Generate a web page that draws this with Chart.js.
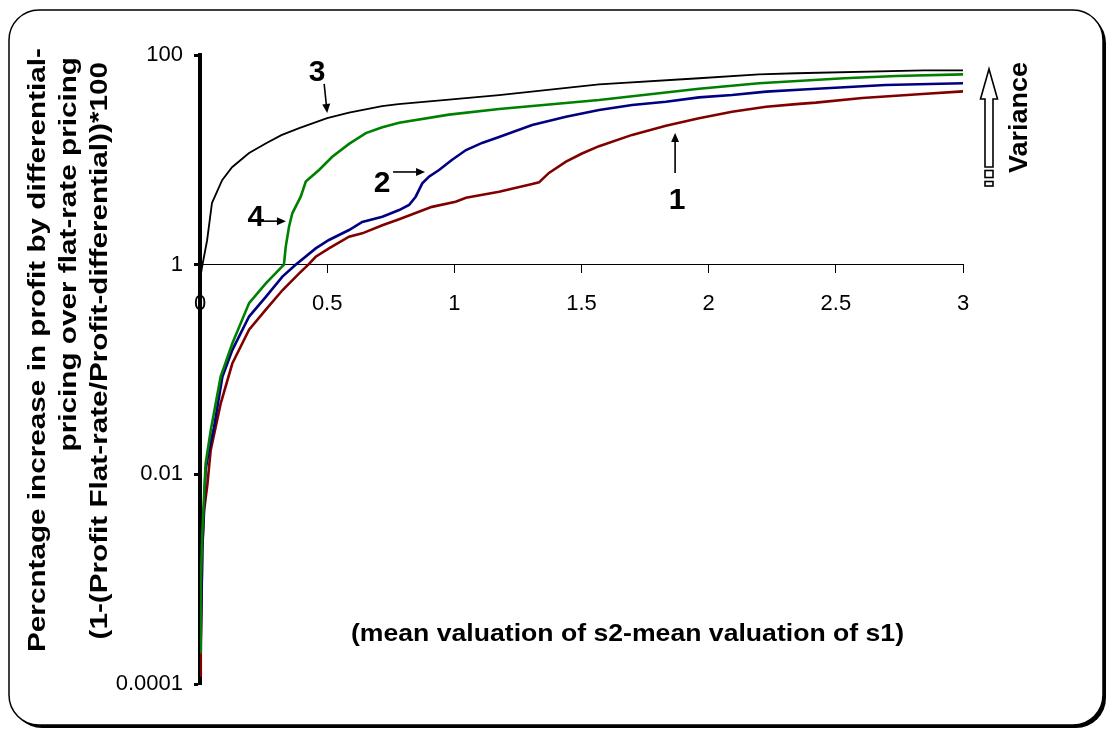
<!DOCTYPE html>
<html>
<head>
<meta charset="utf-8">
<script src="https://cdn.jsdelivr.net/npm/chart.js@4.4.1/dist/chart.umd.min.js"></script>
<style>
  html, body { margin: 0; padding: 0; background: #fff; }
  #wrap { width: 1108px; height: 730px; }
</style>
</head>
<body>
<div id="wrap"><canvas id="c" width="1108" height="730"></canvas></div>
<script>
/* Profit increase of differential vs flat-rate pricing, four variance curves on a log axis. */
const xTicks = [0, 0.5, 1, 1.5, 2, 2.5, 3];
const xTickLabels = ["0", "0.5", "1", "1.5", "2", "2.5", "3"];
const yTicks = [0.0001, 0.01, 1, 100];
const yTickLabels = ["0.0001", "0.01", "1", "100"];

// curve 1 (maroon)
const curve1X = [0.001, 0.003, 0.009, 0.016, 0.029, 0.042, 0.081, 0.127, 0.193, 0.258, 0.324, 0.389, 0.426, 0.455, 0.507, 0.586, 0.638, 0.717, 0.783, 0.912, 1.005, 1.046, 1.176, 1.306, 1.333, 1.372, 1.439, 1.502, 1.569, 1.699, 1.832, 1.962, 2.092, 2.226, 2.344, 2.421, 2.604, 2.84, 3.0];
const curve1Y = [0.00012, 0.0002, 0.0019, 0.0045, 0.008, 0.017, 0.047, 0.114, 0.24, 0.37, 0.57, 0.82, 1.0, 1.19, 1.43, 1.85, 1.99, 2.38, 2.71, 3.56, 3.98, 4.35, 4.97, 5.87, 6.1, 7.5, 9.6, 11.5, 13.5, 17.3, 21.1, 24.9, 28.7, 32.1, 34.0, 35.1, 38.9, 42.5, 45];
// curve 2 (navy)
const curve2X = [0.002, 0.009, 0.022, 0.035, 0.055, 0.088, 0.127, 0.193, 0.258, 0.324, 0.376, 0.455, 0.507, 0.586, 0.638, 0.717, 0.783, 0.822, 0.848, 0.874, 0.9, 0.94, 0.99, 1.046, 1.109, 1.176, 1.306, 1.439, 1.569, 1.699, 1.832, 1.962, 2.092, 2.226, 2.388, 2.696, 3.0];
const curve2Y = [0.0002, 0.002, 0.011, 0.017, 0.028, 0.085, 0.153, 0.32, 0.49, 0.77, 1.0, 1.43, 1.72, 2.14, 2.56, 2.87, 3.32, 3.71, 4.45, 5.97, 6.9, 8.0, 9.96, 12.4, 14.5, 16.5, 21.5, 25.8, 29.9, 33.3, 35.8, 39.4, 41.5, 44.7, 47.1, 51.8, 53.7];
// curve 3 (black)
const curve3X = [0.001, 0.008, 0.028, 0.047, 0.087, 0.126, 0.193, 0.26, 0.32, 0.39, 0.5, 0.586, 0.716, 0.78, 0.979, 1.176, 1.569, 1.962, 2.198, 2.344, 2.847, 3.0];
const curve3Y = [0.75, 0.95, 1.71, 3.87, 6.4, 8.5, 11.6, 14.4, 17.2, 20.1, 25, 28.2, 32.6, 34.0, 37.6, 41.5, 52.5, 60, 65.4, 67, 71.4, 71.4];
// curve 4 (green)
const curve4X = [0.001, 0.003, 0.009, 0.022, 0.042, 0.081, 0.127, 0.193, 0.258, 0.33, 0.337, 0.35, 0.363, 0.396, 0.416, 0.468, 0.52, 0.586, 0.652, 0.717, 0.783, 0.979, 1.176, 1.569, 1.962, 2.198, 2.532, 2.736, 3.0];
const curve4Y = [0.0002, 0.0009, 0.0027, 0.0126, 0.026, 0.085, 0.177, 0.43, 0.66, 1.0, 1.48, 2.3, 3.09, 4.45, 6.2, 8.0, 10.7, 14.2, 18.0, 20.5, 22.6, 27, 30.5, 37.2, 47.7, 53.7, 60, 63.1, 65.4];

const yTitleLines = [
  "Percntage increase in profit by differential-",
  "pricing over flat-rate pricing",
  "(1-(Profit Flat-rate/Profit-differential))*100"
];
const xTitle = "(mean valuation of s2-mean valuation of s1)";
const sideLabel = "Variance";

const FONT = "'Liberation Sans', Arial, Helvetica, sans-serif";
const zip = (xs, ys) => xs.map((x, i) => ({ x, y: ys[i] }));

function roundRect(ctx, x, y, w, h, r) {
  ctx.beginPath();
  ctx.moveTo(x + r, y);
  ctx.arcTo(x + w, y, x + w, y + h, r);
  ctx.arcTo(x + w, y + h, x, y + h, r);
  ctx.arcTo(x, y + h, x, y, r);
  ctx.arcTo(x, y, x + w, y, r);
  ctx.closePath();
}

function arrow(ctx, x1, y1, x2, y2) {
  const a = Math.atan2(y2 - y1, x2 - x1), hl = 9, hw = 4;
  ctx.beginPath(); ctx.moveTo(x1, y1);
  ctx.lineTo(x2 - hl * Math.cos(a), y2 - hl * Math.sin(a)); ctx.stroke();
  ctx.beginPath(); ctx.moveTo(x2, y2);
  ctx.lineTo(x2 - hl * Math.cos(a) + hw * Math.sin(a), y2 - hl * Math.sin(a) - hw * Math.cos(a));
  ctx.lineTo(x2 - hl * Math.cos(a) - hw * Math.sin(a), y2 - hl * Math.sin(a) + hw * Math.cos(a));
  ctx.closePath(); ctx.fill();
}

// stretched text along its own direction so the length matches the picture
function stretchedText(ctx, text, w) {
  const m = ctx.measureText(text).width;
  ctx.scale(w / m, 1);
  ctx.fillText(text, 0, 0);
}

const framePlugin = {
  id: "frame",
  beforeDraw(chart) {
    const ctx = chart.ctx;
    ctx.save();
    ctx.fillStyle = "#fff"; ctx.fillRect(0, 0, chart.width, chart.height);
    roundRect(ctx, 12, 13, 1094, 715, 30); ctx.fillStyle = "#000"; ctx.fill();
    roundRect(ctx, 9, 10, 1094, 715, 30); ctx.fillStyle = "#fff"; ctx.fill();
    ctx.lineWidth = 1.5; ctx.strokeStyle = "#000"; ctx.stroke();
    ctx.restore();
  }
};

const decorPlugin = {
  id: "decor",
  afterDraw(chart) {
    const ctx = chart.ctx, xs = chart.scales.x, ys = chart.scales.y;
    const px = (v) => xs.getPixelForValue(v), py = (v) => ys.getPixelForValue(v);
    ctx.save();
    ctx.fillStyle = "#000"; ctx.strokeStyle = "#000";

    // y title, three rotated lines
    ctx.font = "bold 23px " + FONT;
    const s = 604 / ctx.measureText(yTitleLines[0]).width;
    const lx = [45, 76, 107], ly = [48, 57, 62];
    yTitleLines.forEach((t, i) => {
      ctx.save();
      ctx.translate(lx[i], ly[i]); ctx.rotate(-Math.PI / 2); ctx.scale(s, 1);
      ctx.textAlign = "right"; ctx.textBaseline = "alphabetic";
      ctx.fillText(t, 0, 0);
      ctx.restore();
    });

    // x title inside the plot
    ctx.save();
    ctx.font = "bold 24px " + FONT;
    ctx.translate(351, 641); ctx.textAlign = "left"; ctx.textBaseline = "alphabetic";
    stretchedText(ctx, xTitle, 553);
    ctx.restore();

    // curve labels with arrows, anchored on the curves
    ctx.font = "bold 30px " + FONT; ctx.textAlign = "center"; ctx.textBaseline = "alphabetic";
    ctx.lineWidth = 1.6;
    const notes = [
      { t: "3", x: 0.5, y: 28, tail: [-3, -29], txt: [-10, -43] },
      { t: "4", x: 0.338, y: 2.6, tail: [-24, 0], txt: [-30, -6] },
      { t: "2", x: 0.885, y: 7.66, tail: [-32, 0], txt: [-43, 9] },
      { t: "1", x: 1.868, y: 18, tail: [0, 40], txt: [2, 65] }
    ];
    notes.forEach((n) => {
      const X = px(n.x), Y = py(n.y);
      arrow(ctx, X + n.tail[0], Y + n.tail[1], X, Y);
      ctx.fillText(n.t, X + n.txt[0], Y + n.txt[1] + 11);
    });

    // hollow "Variance" arrow at the right
    const r = chart.chartArea.right;
    const ax = r + 26;
    ctx.lineWidth = 1.6; ctx.fillStyle = "#fff";
    ctx.beginPath();
    ctx.moveTo(ax, 69);
    ctx.lineTo(ax + 8.5, 99); ctx.lineTo(ax + 4, 99); ctx.lineTo(ax + 4, 167);
    ctx.lineTo(ax - 4, 167); ctx.lineTo(ax - 4, 99); ctx.lineTo(ax - 8.5, 99);
    ctx.closePath(); ctx.fill(); ctx.stroke();
    ctx.strokeRect(ax - 4, 170.5, 8, 7);
    ctx.strokeRect(ax - 4, 181.5, 8, 4.5);
    ctx.fillStyle = "#000";
    ctx.save();
    ctx.font = "bold 26px " + FONT;
    ctx.translate(ax + 38, 173); ctx.rotate(-Math.PI / 2);
    ctx.textAlign = "left"; ctx.textBaseline = "alphabetic";
    stretchedText(ctx, sideLabel, 111);
    ctx.restore();

    ctx.restore();
  }
};

new Chart(document.getElementById("c"), {
  type: "line",
  data: {
    datasets: [
      { label: "3", data: zip(curve3X, curve3Y), borderColor: "#000000", borderWidth: 1.8 },
      { label: "4", data: zip(curve4X, curve4Y), borderColor: "#008000", borderWidth: 2.6 },
      { label: "2", data: zip(curve2X, curve2Y), borderColor: "#000080", borderWidth: 2.6 },
      { label: "1", data: zip(curve1X, curve1Y), borderColor: "#800000", borderWidth: 2.6 }
    ]
  },
  options: {
    responsive: false, animation: false, devicePixelRatio: 1,
    layout: { padding: { left: 0, top: 55, right: 145, bottom: 46 } },
    elements: { point: { radius: 0 }, line: { tension: 0, fill: false } },
    plugins: { legend: { display: false }, tooltip: { enabled: false } },
    scales: {
      x: {
        type: "linear", position: { y: 1 }, min: 0, max: 3,
        afterBuildTicks: (sc) => { sc.ticks = xTicks.map((v) => ({ value: v })); },
        ticks: { callback: (v, i) => xTickLabels[i], color: "#000", font: { family: FONT, size: 22 }, padding: 18, autoSkip: false, maxRotation: 0 },
        grid: { drawOnChartArea: false, drawTicks: true, tickLength: 8, tickColor: "#000", tickWidth: 1 },
        border: { display: true, color: "#000", width: 1 }
      },
      y: {
        type: "logarithmic", min: 0.0001, max: 100,
        afterFit: (sc) => { sc.width = 200; },
        afterBuildTicks: (sc) => { sc.ticks = yTicks.map((v) => ({ value: v })); },
        ticks: { callback: (v, i) => yTickLabels[i], color: "#000", font: { family: FONT, size: 22 }, padding: 11, autoSkip: false },
        grid: { drawOnChartArea: false, drawTicks: true, tickLength: 6, tickColor: "#000", tickWidth: 3 },
        border: { display: true, color: "#000", width: 4 }
      }
    }
  },
  plugins: [framePlugin, decorPlugin]
});
</script>
</body>
</html>
